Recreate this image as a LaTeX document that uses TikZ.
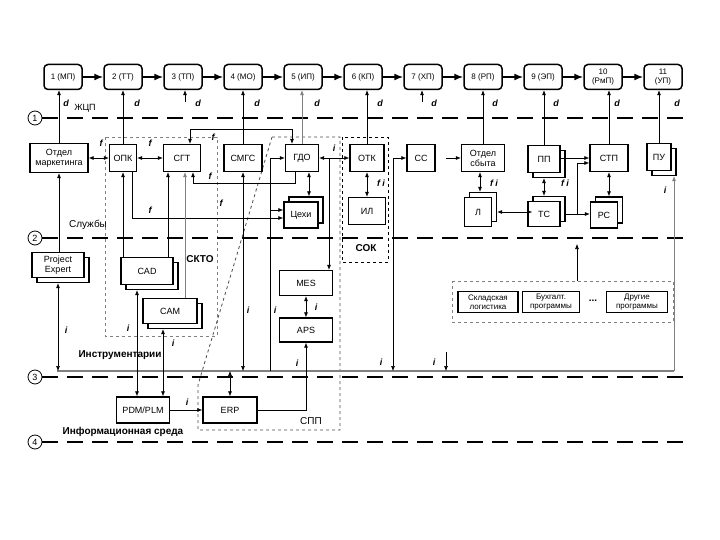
\documentclass[tikz,border=0pt]{standalone}
\usepackage{fontspec}
\setmainfont{Liberation Sans}
\usetikzlibrary{arrows.meta,shadows,fit,positioning}

\tikzset{
  stage/.style={draw,rounded corners=4pt,line width=1.5pt,minimum width=38pt,minimum height=25pt,inner sep=1pt,align=center,fill=white,font=\fontsize{8}{9}\selectfont},
  unit/.style={draw,line width=1.4pt,minimum height=27pt,inner sep=1pt,align=center,fill=white,font=\fontsize{9}{10}\selectfont},
  stackdn/.style={unit,copy shadow={shadow xshift=5pt,shadow yshift=-5pt}},
  stackup/.style={unit,copy shadow={shadow xshift=5pt,shadow yshift=5pt}},
  lvl/.style={line width=1.6pt,dash pattern=on 16pt off 9pt},
  lvlnum/.style={circle,draw,thick,minimum size=14pt,inner sep=0pt,font=\small},
  flow/.style={semithick,-{Latex[length=5pt,width=4pt]}},
  both/.style={semithick,{Latex[length=5pt,width=4pt]}-{Latex[length=5pt,width=4pt]}},
  stagearrow/.style={line width=1.5pt,-{Latex[length=9pt,width=7pt]}},
  lbl/.style={inner sep=1pt,font=\bfseries\itshape\fontsize{9}{10}\selectfont},
  zone/.style={inner sep=1pt,font=\bfseries\fontsize{10}{11}\selectfont},
  prog/.style={unit,minimum height=21pt,font=\fontsize{8}{9}\selectfont},
}

\begin{document}
\begin{tikzpicture}[x=1pt,y=-1pt]
\useasboundingbox (0,0) rectangle (720,540);

% zones
\draw[gray,dashed,thick] (105,137) rectangle (217,336);
\draw[gray!60!black,dashed,thick] (272,137) -- (340,137) -- (340,430) -- (198,430) -- (198,385) -- cycle;
\draw[dashed,thick] (342,137) rectangle (388,262);

% levels
\node[lvlnum] (c1) at (35,118) {1};
\node[lvlnum] (c2) at (35,238) {2};
\node[lvlnum] (c3) at (35,377) {3};
\node[lvlnum] (c4) at (35,442) {4};
\coordinate (e1) at (690,118);
\coordinate (e2) at (690,238);
\coordinate (e3) at (690,377);
\coordinate (e4) at (690,442);
\draw[lvl] (c1.east) -- (e1);
\draw[lvl] (c2.east) -- (e2);
\draw[lvl] (c3.east) -- (e3);
\draw[lvl] (c4.east) -- (e4);
\node[inner sep=1pt,font=\fontsize{9}{10}\selectfont] (zhcp) at (85,108) {ЖЦП};
\node[inner sep=1pt,font=\fontsize{10}{11}\selectfont] (sluzh) at (88,225) {Службы};
\node[zone] (instr) at (120,355) {Инструментарии};
\node[zone] (infsr) at (123,432) {Информационная среда};
\node[zone] (skto) at (200,259) {СКТО};
\node[zone] (sok) at (366,248) {СОК};
\node[inner sep=1pt,font=\fontsize{10}{11}\selectfont] (spp) at (311,421) {СПП};

% life cycle stages
\foreach \k/\t in {1/{1 (МП)},2/{2 (ТТ)},3/{3 (ТП)},4/{4 (МО)},5/{5 (ИП)},6/{6 (КП)},7/{7 (ХП)},8/{8 (РП)},9/{9 (ЭП)},10/{10\\(РмП)},11/{11\\(УП)}}
  \node[stage] (s\k) at (3+60*\k,77) {\t};
\foreach \k in {1,...,10}{
  \pgfmathtruncatemacro\m{\k+1}
  \draw[stagearrow] (s\k) -- (s\m);
}

% services
\node[unit,minimum width=58pt,minimum height=29pt] (mkt) at (59,158) {Отдел\\маркетинга};
\node[unit,minimum width=27pt] (opk) at (123,158) {ОПК};
\node[unit,minimum width=37pt] (sgt) at (182,158) {СГТ};
\node[unit,minimum width=38pt] (smgs) at (243,158) {СМГС};
\node[unit,minimum width=33pt] (gdo) at (302,158) {ГДО};
\node[unit,minimum width=34pt] (otk) at (367,158) {ОТК};
\node[unit,minimum width=28pt] (ss) at (421,158) {СС};
\node[unit,minimum width=43pt] (sbyt) at (483,158) {Отдел\\сбыта};
\node[stackdn,minimum width=32pt] (pp) at (544,159) {ПП};
\node[unit,minimum width=38pt] (stp) at (609,158) {СТП};
\node[stackdn,minimum width=24pt] (pu) at (659,157) {ПУ};

\node[stackup,minimum width=34pt,minimum height=26pt] (cehi) at (301,215) {Цехи};
\node[unit,minimum width=37pt] (il) at (367,211) {ИЛ};
\node[stackup,minimum width=27pt,minimum height=29pt] (lab) at (478,212) {Л};
\node[stackup,minimum width=32pt,minimum height=25pt] (ts) at (544,214) {ТС};
\node[stackup,minimum width=27pt,minimum height=26pt] (rs) at (604,215) {РС};

% tools
\node[stackdn,minimum width=52pt,minimum height=25pt] (pe) at (58,265) {Project\\Expert};
\node[stackdn,minimum width=52pt] (cad) at (147,271) {CAD};
\node[stackdn,minimum width=54pt,minimum height=25pt] (cam) at (170,311) {CAM};
\node[unit,minimum width=53pt,minimum height=25pt] (mes) at (306,283) {MES};
\node[unit,minimum width=53pt,minimum height=24pt] (aps) at (306,330) {APS};
\node[prog,minimum width=60pt] (skl) at (488,302) {Складская\\логистика};
\node[prog,minimum width=57pt] (buh) at (551,302) {Бухгалт.\\программы};
\node[prog,minimum width=61pt] (oth) at (637,302) {Другие\\программы};
\node[font=\bfseries] (dots) at (593,301) {...};
\node[draw=gray,dashed,thick,fit=(skl)(buh)(oth),inner xsep=5pt,inner ysep=9pt] (grp) {};

% information environment
\node[unit,minimum width=53pt,minimum height=26pt] (pdm) at (143,410) {PDM/PLM};
\node[unit,minimum width=54pt,minimum height=26pt] (erp) at (230,410) {ERP};

% d arrows
\coordinate (d3) at (185,102);
\coordinate (d7) at (422,102);
\draw[flow] (mkt.north) -- (mkt.north |- s1.south);
\draw[flow] (opk.north) -- (opk.north |- s2.south);
\draw[flow] (d3) -- (d3 |- s3.south);
\draw[flow] (smgs.north) -- (smgs.north |- s4.south);
\draw[flow,gray] (gdo.north) -- (gdo.north |- s5.south);
\draw[flow] (otk.north) -- (otk.north |- s6.south);
\draw[flow] (d7) -- (d7 |- s7.south);
\draw[flow] (sbyt.north) -- (sbyt.north |- s8.south);
\draw[flow] (pp.north) -- (pp.north |- s9.south);
\draw[flow] (stp.north) -- (stp.north |- s10.south);
\draw[flow] (pu.north) -- (pu.north |- s11.south);
\foreach \k/\x in {1/66,2/137,3/198,4/257,5/317,6/380,7/434,8/495,9/556,10/617,11/677}
  \node[lbl] (ld\k) at (\x,103) {d};

% bus
\coordinate (busL) at (57,371);
\coordinate (busR) at (674,371);
\coordinate (puB) at ([yshift=-5pt]pu.south);
\draw[gray,line width=1.2pt] (busL) -- (busR);
\draw[flow,gray] (busR) -- (busR |- puB);

% links between services
\draw[both] (mkt) -- (opk);
\draw[both] (opk) -- (sgt);
\draw[both] ([xshift=8pt]sgt.north) -- ++(0,-14) -| ([xshift=-10pt]gdo.north);
\draw[flow] ([xshift=-7pt]gdo.south) -- ++(0,11) -| ([xshift=11pt]sgt.south);
\draw[both] ([xshift=7pt]gdo.south) -- ([xshift=8pt,yshift=5pt]cehi.north);
\draw[flow] ([xshift=9pt]opk.south) |- ([yshift=-3pt]cehi.west);
\coordinate (g1) at (270,371);
\coordinate (g2) at (270,210);
\draw[flow] (g1) |- (gdo.west);
\draw[flow] (g2) -- (g2 -| cehi.west);
\coordinate (j1) at (329,158);
\draw[flow] (j1) -- (gdo.east);
\draw[flow] (j1) -- (otk.west);
\draw[flow] (j1) -- (j1 |- mes.north);
\draw[both] (otk) -- (il);
\coordinate (j2) at (393,158);
\draw[flow] (j2) -- (ss.west);
\draw[flow] (j2) -- (j2 |- busL);
\coordinate (t1) at (446,352);
\draw[flow] (t1) -- (t1 |- busL);
\draw[flow] ([xshift=10pt]ss.east) -- (sbyt.west);
\draw[both] ([xshift=-3pt]sbyt.south) -- ([xshift=2pt,yshift=5pt]lab.north);
\draw[both] ([xshift=5pt]lab.east) -- ([xshift=5pt]lab.east -| ts.west);
\draw[both] ([yshift=-5pt]pp.south) -- ([yshift=5pt]ts.north);
\draw[flow] ([yshift=1pt]pp.east) -- ([yshift=1pt]pp.east -| stp.west);
\coordinate (j3) at (577,214);
\draw[semithick] ([xshift=5pt]ts.east) -- (j3);
\draw[flow] (j3) |- ([yshift=-5pt]stp.west);
\draw[flow] (j3) -- (j3 -| rs.west);
\coordinate (rsT) at ([yshift=5pt]rs.north);
\draw[both] (stp.south) -- (stp.south |- rsT);
\coordinate (up2) at (577,244);
\draw[flow] (grp.north -| up2) -- (up2);

% tools links
\draw[flow] (pe.north -| mkt.south) -- (mkt.south);
\draw[both] ([yshift=-5pt]pe.south) -- (pe.south |- busL);
\draw[flow] (cad.north -| opk.south) -- (opk.south);
\draw[flow] ([xshift=-14pt]sgt.south |- cad.north) -- ([xshift=-14pt]sgt.south);
\draw[flow,gray] ([xshift=15pt]cam.north) -- ([xshift=15pt]cam.north |- sgt.south);
\draw[both] (smgs.south) -- (smgs.south |- busL);
\draw[both] ([xshift=-10pt,yshift=-5pt]cad.south) -- ([xshift=-6pt]pdm.north);
\draw[both] ([xshift=-7pt,yshift=-5pt]cam.south) -- ([xshift=20pt]pdm.north);
\draw[both] (mes.south) -- (aps.north);
\draw[flow] (pdm) -- (erp);
\draw[both] (erp.north) -- (erp.north |- busL);
\draw[flow] (erp.east) -| (aps.south);

% flow labels
\node[lbl] (lf1) at (101,143) {f};
\node[lbl] (lf2) at (150,143) {f};
\node[lbl] (lf3) at (213,137) {f};
\node[lbl] (lf4) at (210,176) {f};
\node[lbl] (lf5) at (221,203) {f};
\node[lbl] (lf6) at (150,210) {f};
\node[lbl] (li1) at (334,148) {i};
\node[lbl] (lfi1) at (381,183) {f i};
\node[lbl] (lfi2) at (494,183) {f i};
\node[lbl] (lfi3) at (565,183) {f i};
\node[lbl] (li2) at (665,190) {i};
\node[lbl] (li3) at (66,330) {i};
\node[lbl] (li4) at (128,328) {i};
\node[lbl] (li5) at (173,343) {i};
\node[lbl] (li6) at (248,310) {i};
\node[lbl] (li7) at (275,310) {i};
\node[lbl] (li8) at (316,307) {i};
\node[lbl] (li9) at (297,363) {i};
\node[lbl] (li10) at (381,362) {i};
\node[lbl] (li11) at (434,362) {i};
\node[lbl] (li12) at (187,402) {i};
\end{tikzpicture}
\end{document}
